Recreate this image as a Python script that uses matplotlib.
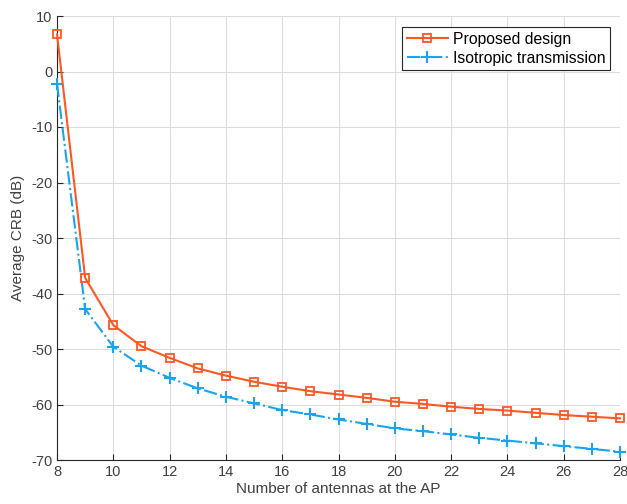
import matplotlib
matplotlib.use("Agg")
import matplotlib.pyplot as plt
import numpy as np

antennas = list(range(8, 29))
proposed = [6.7, -37.2, -45.7, -49.5, -51.6, -53.5, -54.8, -55.9, -56.8, -57.6, -58.2,
            -58.8, -59.5, -59.9, -60.4, -60.8, -61.1, -61.5, -61.9, -62.2, -62.5]
isotropic = [-2.2, -42.8, -49.6, -53.0, -55.2, -57.1, -58.6, -59.8, -61.0, -61.8, -62.7,
             -63.5, -64.3, -64.8, -65.4, -66.0, -66.5, -67.0, -67.5, -68.0, -68.5]
xticks = list(range(8, 29, 2))
yticks = list(range(-70, 11, 10))

plt.rcParams['font.family'] = ['Liberation Sans', 'DejaVu Sans']
plt.rcParams['axes.unicode_minus'] = False
fig = plt.figure(figsize=(6.27, 5.04), dpi=100)
ax = fig.add_axes([57/627, 1-460/504, 563/627, 444/504])

ax.plot(antennas, proposed, '-', color='#FF5722', lw=1.5, marker='s', ms=6,
        mfc='none', mec='#FF5722', mew=1.3, label='Proposed design', clip_on=False, zorder=4)
ax.plot(antennas, isotropic, '-.', color='#18A4EE', lw=1.5, marker='+', ms=9,
        mew=1.5, label='Isotropic transmission', clip_on=False, zorder=3)

ax.set_xlim(8, 28)
ax.set_ylim(-70, 10)
ax.set_xticks(xticks)
ax.set_yticks(yticks)
ax.grid(True, color='#DDDDDD', lw=0.8)
ax.set_axisbelow(True)
for s in ['top', 'right']:
    ax.spines[s].set_visible(False)
for s in ['left', 'bottom']:
    ax.spines[s].set_color('#262626')
ax.tick_params(direction='in', length=4, colors='#262626', labelcolor='#404040', labelsize=10.5)
ax.set_xlabel('Number of antennas at the AP', fontsize=11, color='#404040', labelpad=2)
ax.set_ylabel('Average CRB (dB)', fontsize=11, color='#404040', labelpad=4)

leg = ax.legend(loc='upper right', bbox_to_anchor=(0.982, 0.975), borderaxespad=0,
                fontsize=11.3, fancybox=False, framealpha=1, edgecolor='#262626',
                handlelength=2.6, borderpad=0.3, labelspacing=0.25, handletextpad=0.3)
leg.get_frame().set_linewidth(0.8)
for t in leg.get_texts():
    t.set_color('#000000')

fig.savefig('out.png', dpi=100)
